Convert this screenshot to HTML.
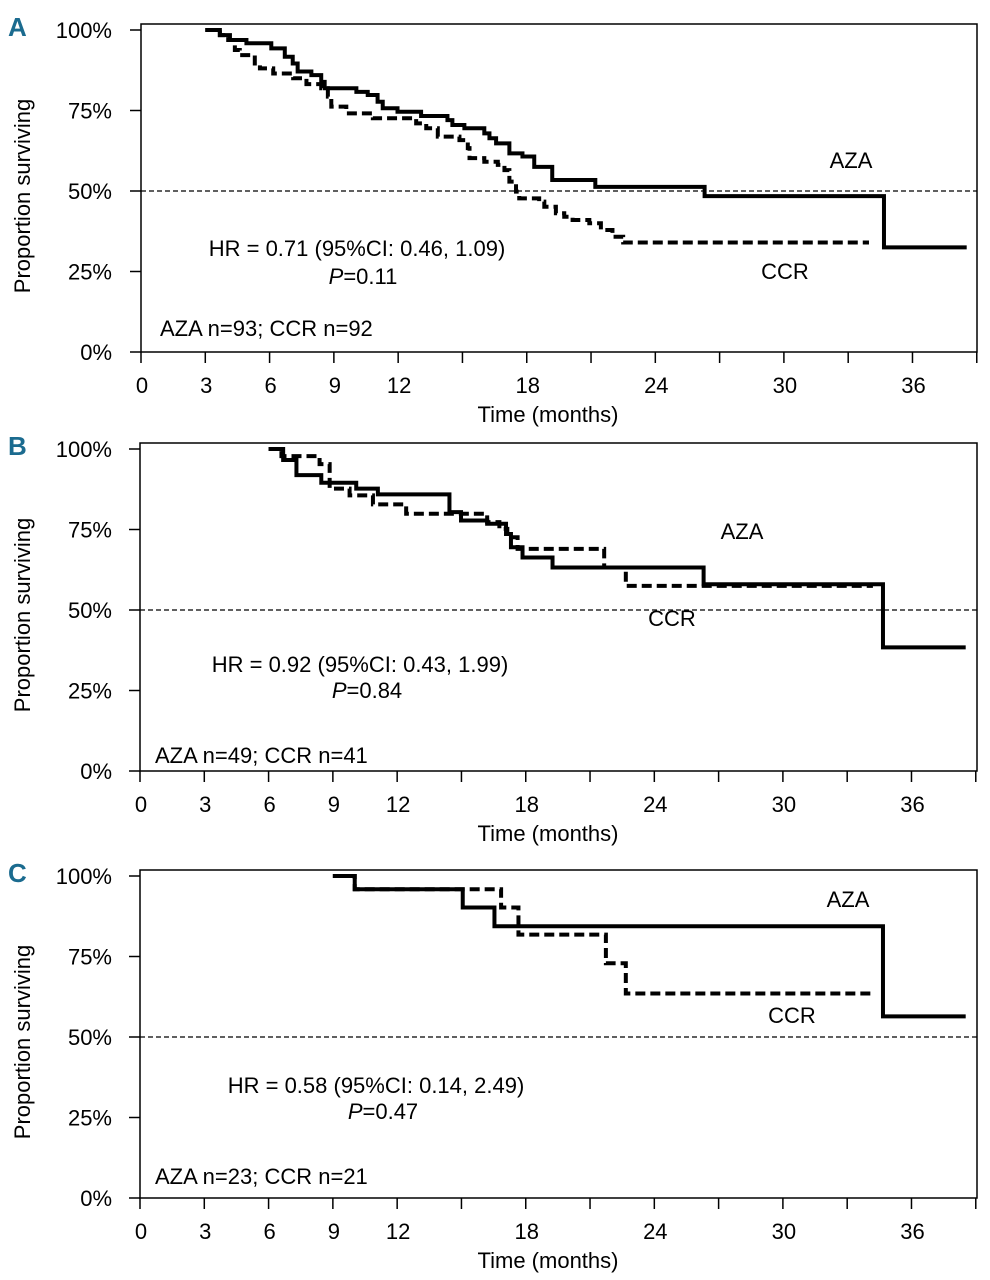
<!DOCTYPE html>
<html><head><meta charset="utf-8"><style>
html,body{margin:0;padding:0;background:#fff;}
svg{display:block;font-family:"Liberation Sans Narrow","Liberation Sans",sans-serif;}
</style></head><body>
<svg id="c" width="990" height="1280" viewBox="0 0 990 1280" xmlns="http://www.w3.org/2000/svg"></svg>
<script>
// Panel A data (months, percent)
const aAzaT=[3,3.68,4.15,4.92,6.08,6.71,7.08,7.31,7.95,8.41,8.57,10.05,10.58,11.04,11.28,11.97,13.07,14.3,14.53,15.09,16.02,16.26,16.57,17.19,17.8,18.35,19.19,21.2,26.3,34.67,38.53];
const aAzaS=[100,98.4,96.9,95.9,94.3,91.7,89.6,87.1,86,83.9,81.9,80.8,79.8,77.7,75.7,74.6,73.3,72,70.5,69.5,67.9,66.4,64.8,61.7,60.7,57.5,53.4,51.3,48.4,32.5,32.5];
const aCcrT=[3,3.68,4.07,4.38,4.61,5.31,5.55,6.17,7.1,7.72,8.41,8.72,8.88,9.58,10.82,12.84,13.31,13.85,14.86,15.25,15.33,16.02,16.65,16.96,17.19,17.5,17.65,18.58,18.82,19.36,19.75,20.14,20.92,21.46,22.0,22.5,33.97];
const aCcrS=[100,98.4,96.9,93.8,92.2,89.6,88.1,86.5,85,83.2,81.9,79.3,76.2,74.1,72.6,71,69.5,66.9,65.8,63.3,60.2,59.1,58.1,56.5,52.9,49.8,47.7,46.7,45.1,43.1,42,41,40,37.9,35.8,34,34];
// Panel B data
const bAzaT=[6,6.68,7.3,8.46,10.09,11.1,14.44,14.98,16.2,17.08,17.31,17.85,19.25,26.3,34.67,38.53];
const bAzaS=[100,96.6,91.9,89.5,87.7,85.9,80.4,77.8,76.8,73.6,69.5,66.3,63.2,58,38.4,38.4];
const bCcrT=[6,6.6,8.38,8.85,9.78,10.87,12.42,16.2,16.77,17.14,17.62,21.66,22.67,34.2];
const bCcrS=[100,97.8,95.3,87.7,85.6,82.8,79.9,77.3,75.2,72.6,69,63.2,57.5,57.5];
// Panel C data
const cAzaT=[9,10.02,15.06,16.54,34.67,38.53];
const cAzaS=[100,95.9,90.2,84.4,56.4,56.4];
const cCcrT=[9,10.02,16.85,17.66,21.74,22.67,34.1];
const cCcrS=[100,95.9,90.2,81.8,72.9,63.5,63.5];
// Axis ticks
const yTicks=[0,25,50,75,100];
const yTickLabels=["0%","25%","50%","75%","100%"];
const xLabelVals=[0,3,6,9,12,18,24,30,36];
const xTickVals=[0,3,6,9,12,15,18,21,24,27,30,33,36,39];

const NS="http://www.w3.org/2000/svg";
const svg=document.getElementById('c');
function mk(tag,attrs,parent,text){const e=document.createElementNS(NS,tag);for(const k in attrs)e.setAttribute(k,attrs[k]);if(text!==undefined)e.textContent=text;(parent||svg).appendChild(e);return e;}

function panel(cfg){
  const g=mk('g',{});
  
  
  const top=cfg.top, axisY=top+328, x0=cfg.x0, right=977;
  const X=m=>x0+m*21.43;
  const Y=p=>top+6+(100-p)*3.22;
  // letter
  const L=mk('text',{x:8,y:top+12,'font-size':26,'font-weight':'bold',fill:'#1b6b8f','font-family':'"Liberation Sans Narrow","Liberation Sans",sans-serif'},g,cfg.id);
  
  
  // box
  const box=mk('rect',{x:x0,y:top,width:right-x0,height:axisY-top,fill:'none',stroke:'#000','stroke-width':1.5},g);
  
  
  // y ticks
  yTicks.forEach((v,i)=>{
    const t=mk('line',{x1:x0-11,x2:x0,y1:Y(v),y2:Y(v),stroke:'#000','stroke-width':1.5},g);
    
    
    const tl=mk('text',{x:112,y:Y(v)+8,'font-size':22,'text-anchor':'end'},g,yTickLabels[i]);
    
    
  });
  xTickVals.forEach(v=>{
    const t=mk('line',{x1:X(v),x2:X(v),y1:axisY,y2:axisY+11,stroke:'#000','stroke-width':1.5},g);
    
    
  });
  xLabelVals.forEach(v=>{
    const tl=mk('text',{x:X(v)+1,y:axisY+41,'font-size':22,'text-anchor':'middle'},g,String(v));
    
    
  });
  const xt=mk('text',{x:548,y:axisY+70,'font-size':22,'text-anchor':'middle'},g,'Time (months)');
  
  
  const yc=(top+axisY)/2+8;
  const yt=mk('text',{x:0,y:0,'font-size':22,'text-anchor':'middle',transform:`translate(30,${yc}) rotate(-90)`},g,'Proportion surviving');
  
  
  // 50% line
  const ref=mk('line',{x1:x0,x2:right,y1:Y(50),y2:Y(50),stroke:'#000','stroke-width':1.2,'stroke-dasharray':'5,3'},g);
  
  
  function step(T,S,dash,name){
    let d='M'+X(T[0])+','+Y(S[0]);
    for(let i=1;i<T.length;i++){d+=' H'+X(T[i])+' V'+Y(S[i]);}
    const p=mk('path',{d:d,fill:'none',stroke:'#000','stroke-width':4,'stroke-linejoin':'miter'},g);
    if(dash)p.setAttribute('stroke-dasharray','10,5');
    
    
  }
  step(cfg.ccrT,cfg.ccrS,true,'ccr-curve');
  step(cfg.azaT,cfg.azaS,false,'aza-curve');
  const t1=mk('text',{x:cfg.aza[0],y:cfg.aza[1]+8,'font-size':22,'text-anchor':'middle'},g,'AZA');
  
  
  const t2=mk('text',{x:cfg.ccr[0],y:cfg.ccr[1]+8,'font-size':22,'text-anchor':'middle'},g,'CCR');
  
  
  const t3=mk('text',{x:cfg.hr[0],y:cfg.hr[1]+8,'font-size':22,'text-anchor':'middle'},g,cfg.hrText);
  
  
  const t4=mk('text',{x:cfg.p[0],y:cfg.p[1]+8,'font-size':22,'text-anchor':'middle'},g);
  mk('tspan',{'font-style':'italic'},t4,'P');
  mk('tspan',{},t4,cfg.pText);
  
  
  const t5=mk('text',{x:cfg.n[0],y:cfg.n[1]+8,'font-size':22},g,cfg.nText);
  
  
}
panel({id:'A',top:24,x0:141,azaT:aAzaT,azaS:aAzaS,ccrT:aCcrT,ccrS:aCcrS,aza:[851,160],ccr:[785,271],hr:[357,248],hrText:'HR = 0.71 (95%CI: 0.46, 1.09)',p:[363,276],pText:'=0.11',n:[160,328],nText:'AZA n=93; CCR n=92'});
panel({id:'B',top:443,x0:140,azaT:bAzaT,azaS:bAzaS,ccrT:bCcrT,ccrS:bCcrS,aza:[742,531],ccr:[672,618],hr:[360,664],hrText:'HR = 0.92 (95%CI: 0.43, 1.99)',p:[367,690],pText:'=0.84',n:[155,755],nText:'AZA n=49; CCR n=41'});
panel({id:'C',top:870,x0:140,azaT:cAzaT,azaS:cAzaS,ccrT:cCcrT,ccrS:cCcrS,aza:[848,899],ccr:[792,1015],hr:[376,1085],hrText:'HR = 0.58 (95%CI: 0.14, 2.49)',p:[383,1111],pText:'=0.47',n:[155,1176],nText:'AZA n=23; CCR n=21'});
</script>
</body></html>
